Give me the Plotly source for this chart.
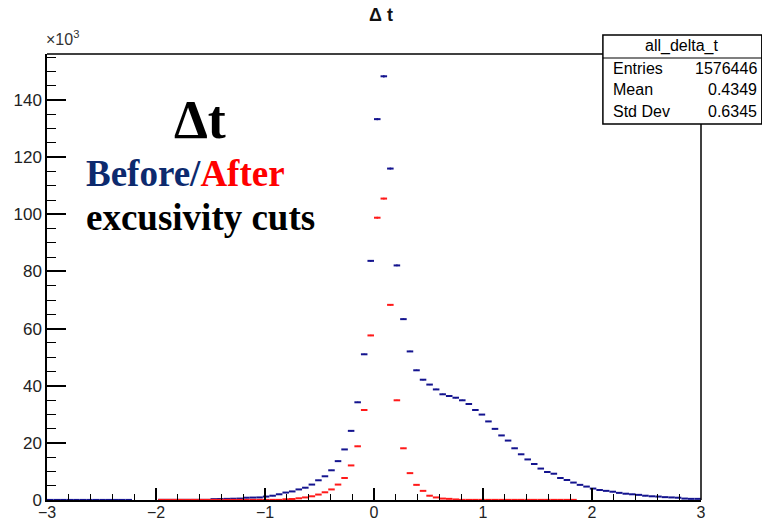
import numpy as np
import plotly.graph_objects as go

# ---- data (counts in units of 10^3) ----
bin_lo, bin_hi, n_bins = -3.0, 3.0, 100
N = None
before_counts = (
    [0.03] * 13 + [N] * 4 + [0.05] * 8 +
    [0.3, 0.35, 0.4, 0.45, 0.5, 0.8, 0.85, 0.9, 1.2, 1.5,
     2.0, 2.6, 3.0, 3.7, 4.3, 5.4, 6.9, 8.3, 10.4, 13.6,
     17.7, 24.2, 34.2, 51.0, 83.7, 133.3, 148.3, 116.0, 82.1, 63.3,
     52.0, 45.4, 42.1, 40.4, 38.7, 37.0, 36.4, 35.8, 34.9, 33.6,
     31.5, 29.9, 27.5, 24.9, 22.6, 20.8, 18.1, 16.0, 14.2, 12.6,
     11.0, 9.8, 9.2, 7.7, 7.0, 6.1, 5.3, 4.7, 4.0, 3.5,
     3.2, 2.9, 2.5, 2.2, 2.0, 1.8, 1.5, 1.3, 1.2, 1.0,
     0.9, 0.8, 0.5, 0.4, 0.4]
)
after_counts = (
    [N] * 17 + [0.05] * 19 +
    [0.25, 0.35, 0.6, 0.9, 1.3, 1.9, 2.7, 3.7, 5.4, 7.7,
     12.1, 18.8, 31.5, 57.6, 98.8, 105.5, 68.3, 34.9, 18.1, 9.4,
     5.3, 3.2, 1.5, 0.9, 0.5, 0.4, 0.2] +
    [0.05] * 18 + [N] * 19
)
x_tickvals = [-3, -2, -1, 0, 1, 2, 3]
x_ticktext = ["\u22123", "\u22122", "\u22121", "0", "1", "2", "3"]
y_tickvals = [0, 20, 40, 60, 80, 100, 120, 140]
y_ticktext = ["0", "20", "40", "60", "80", "100", "120", "140"]
stats_labels = ["Entries", "Mean", "Std Dev"]
stats_values = ["1576446", "0.4349", "0.6345"]
hist_name = "all_delta_t"

edges = np.linspace(bin_lo, bin_hi, n_bins + 1)
centers = 0.5 * (edges[:-1] + edges[1:])
half_w = 0.5 * (edges[1] - edges[0])

BLUE = "#14148f"
RED = "#ff1a1a"

def hist_trace(vals, color):
    v = np.array([np.nan if a is None else a for a in vals], dtype=float)
    err = np.sqrt(np.nan_to_num(v) * 1000.0) / 1000.0
    return go.Scatter(
        x=centers, y=v, mode="markers",
        marker=dict(size=1, color=color),
        error_x=dict(type="constant", value=half_w, width=0, thickness=2, color=color),
        error_y=dict(type="data", array=err, width=0, thickness=1.5, color=color),
        showlegend=False, hoverinfo="skip",
    )

fig = go.Figure()
fig.add_trace(hist_trace(before_counts, BLUE))
fig.add_trace(hist_trace(after_counts, RED))

xfont = dict(family="Liberation Sans, Arial, sans-serif", size=16, color="#222")
yfont = dict(family="Liberation Sans, Arial, sans-serif", size=17, color="#222")
fig.update_layout(
    width=762, height=522,
    margin=dict(l=47, r=61, t=54, b=22),
    paper_bgcolor="white", plot_bgcolor="white",
    title=dict(text="<b>\u0394 t</b>", x=0.5, xanchor="center", y=0.972, yanchor="middle",
               font=dict(family="Liberation Sans, Arial, sans-serif", size=18, color="#111")),
    xaxis=dict(range=[bin_lo, bin_hi], showgrid=False, zeroline=False, automargin=False,
               showline=True, linecolor="black", linewidth=1.5,
               ticks="inside", ticklen=12, tickwidth=1.5, tickcolor="black",
               tickvals=x_tickvals, ticktext=x_ticktext, tickfont=xfont, ticklabelstandoff=-3,
               minor=dict(dtick=0.2, tick0=0, ticks="inside", ticklen=6, tickwidth=1.2, tickcolor="black")),
    yaxis=dict(range=[0, 156.1], showgrid=False, zeroline=False, automargin=False,
               showline=True, linecolor="black", linewidth=1.5,
               ticks="inside", ticklen=19, tickwidth=1.5, tickcolor="black",
               tickvals=y_tickvals, ticktext=y_ticktext, tickfont=yfont,
               minor=dict(dtick=5, tick0=0, ticks="inside", ticklen=9, tickwidth=1.2, tickcolor="black")),
)

# frame top/right
box_x0, box_x1, box_y0, box_y1, box_sep = 0.850, 1.093, 0.843, 1.0426, 0.991
fig.add_shape(type="line", xref="paper", yref="paper", x0=0, x1=box_x0, y0=1, y1=1,
              line=dict(color="black", width=1.5))
fig.add_shape(type="line", xref="paper", yref="paper", x0=1, x1=1, y0=0, y1=box_y0,
              line=dict(color="black", width=1.5))
# stats box
fig.add_shape(type="rect", xref="paper", yref="paper", x0=box_x0, x1=box_x1, y0=box_y0, y1=box_y1,
              line=dict(color="black", width=1.5), fillcolor="white", layer="above")
fig.add_shape(type="line", xref="paper", yref="paper", x0=box_x0, x1=box_x1, y0=box_sep, y1=box_sep,
              line=dict(color="black", width=1.2), layer="above")

sfont = dict(family="Liberation Sans, Arial, sans-serif", size=16, color="black")
fig.add_annotation(xref="paper", yref="paper", x=0.971, y=1.018, text=hist_name, showarrow=False,
                   xanchor="center", yanchor="middle", font=sfont)
for i, (lab, val) in enumerate(zip(stats_labels, stats_values)):
    yy = 0.9686 - i * 0.0493
    fig.add_annotation(xref="paper", yref="paper", x=0.862, y=yy, text=lab, showarrow=False,
                       xanchor="left", yanchor="middle", font=sfont)
    fig.add_annotation(xref="paper", yref="paper", x=1.089, y=yy, text=val, showarrow=False,
                       xanchor="right", yanchor="middle", font=sfont)

# x10^3 label
fig.add_annotation(xref="paper", yref="paper", x=-0.004, y=1.008, text="\u00d710<sup>3</sup>",
                   showarrow=False, xanchor="left", yanchor="bottom",
                   font=dict(family="Liberation Sans, Arial, sans-serif", size=16, color="#333"))

serif = "Liberation Serif, Times New Roman, serif"
fig.add_annotation(xref="paper", yref="paper", x=0.234, y=0.852, text="<b>\u0394t</b>", showarrow=False,
                   xanchor="center", yanchor="middle", font=dict(family=serif, size=54, color="black"))
fig.add_annotation(xref="paper", yref="paper", x=0.0566, y=0.733,
                   text="<b><span style='color:#0d2a6e'>Before/</span><span style='color:#ff0000'>After</span></b>",
                   showarrow=False, xanchor="left", yanchor="middle", font=dict(family=serif, size=37))
fig.add_annotation(xref="paper", yref="paper", x=0.0566, y=0.6345, text="<b>excusivity cuts</b>",
                   showarrow=False, xanchor="left", yanchor="middle",
                   font=dict(family=serif, size=37, color="black"))

fig.write_html("out.html")
